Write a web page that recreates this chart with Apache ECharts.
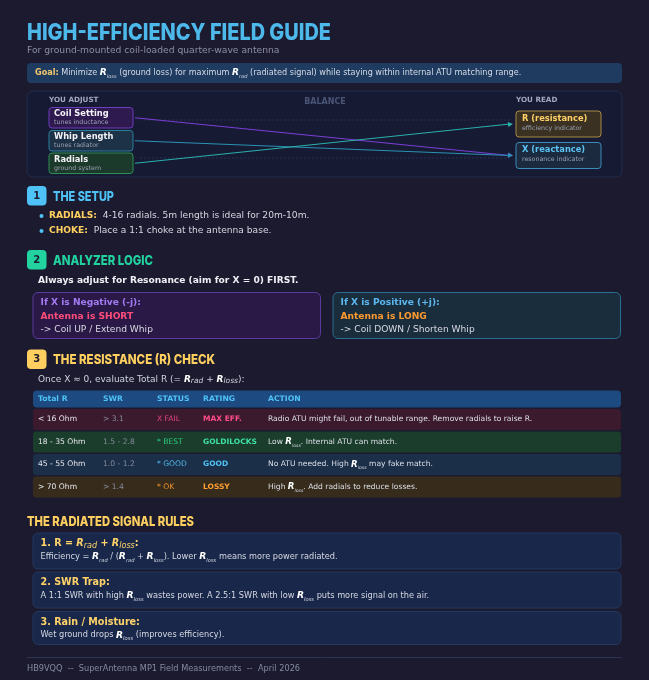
<!DOCTYPE html>
<html><head><meta charset="utf-8">
<script src="https://cdn.jsdelivr.net/npm/echarts@6/dist/echarts.min.js"></script>
<style>html,body{margin:0;padding:0;background:#1b1a2e}#c{width:649px;height:680px}</style>
</head><body><div id="c"></div><script>
// ---------- DATA ----------
const titleText = 'HIGH-EFFICIENCY FIELD GUIDE';
const subtitleText = 'For ground-mounted coil-loaded quarter-wave antenna';
const goalText = '{g|Goal:} Minimize {R|R}{s|loss} (ground loss) for maximum {R|R}{s|rad} (radiated signal) while staying within internal ATU matching range.';
const adjustNames = ['Coil Setting', 'Whip Length', 'Radials'];
const adjustSubs = ['tunes inductance', 'tunes radiator', 'ground system'];
const readNames = ['R (resistance)', 'X (reactance)'];
const readSubs = ['efficiency indicator', 'resonance indicator'];
const links = [[0, 1], [1, 1], [2, 0]];
const sectionTitles = ['THE SETUP', 'ANALYZER LOGIC', 'THE RESISTANCE (R) CHECK'];
const setupLabels = ['RADIALS:', 'CHOKE:'];
const setupTexts = ['4-16 radials. 5m length is ideal for 20m-10m.', 'Place a 1:1 choke at the antenna base.'];
const logicIntro = 'Always adjust for Resonance (aim for X = 0) FIRST.';
const logicTitles = ['If X is Negative (-j):', 'If X is Positive (+j):'];
const logicStates = ['Antenna is SHORT', 'Antenna is LONG'];
const logicActions = ['-> Coil UP / Extend Whip', '-> Coil DOWN / Shorten Whip'];
const resistanceIntro = 'Once X \u2248 0, evaluate Total R (= {Ri|R}{si|rad} + {Ri|R}{si|loss}):';
const tableHeader = ['Total R', 'SWR', 'STATUS', 'RATING', 'ACTION'];
const totalR = ['< 16 Ohm', '18 - 35 Ohm', '45 - 55 Ohm', '> 70 Ohm'];
const swrValues = ['> 3.1', '1.5 - 2.8', '1.0 - 1.2', '> 1.4'];
const statusValues = ['X FAIL', '* BEST', '* GOOD', '* OK'];
const ratingValues = ['MAX EFF.', 'GOLDILOCKS', 'GOOD', 'LOSSY'];
const actionValues = [
  'Radio ATU might fail, out of tunable range. Remove radials to raise R.',
  'Low {R|R}{s|loss}. Internal ATU can match.',
  'No ATU needed. High {R|R}{s|loss} may fake match.',
  'High {R|R}{s|loss}. Add radials to reduce losses.'
];
const rulesTitle = 'THE RADIATED SIGNAL RULES';
const ruleTitles = ['1. R = {Ri|R}{si|rad} + {Ri|R}{si|loss}:', '2. SWR Trap:', '3. Rain / Moisture:'];
const ruleTexts = [
  'Efficiency = {R|R}{s|rad} / ({R|R}{s|rad} + {R|R}{s|loss}). Lower {R|R}{s|loss} means more power radiated.',
  'A 1:1 SWR with high {R|R}{s|loss} wastes power. A 2.5:1 SWR with low {R|R}{s|loss} puts more signal on the air.',
  'Wet ground drops {R|R}{s|loss} (improves efficiency).'
];
const footerText = 'HB9VQQ  --  SuperAntenna MP1 Field Measurements  --  April 2026';

// ---------- STYLE ----------
const F = 'DejaVu Sans';
const H = 'Inter';
const BG = '#1b1a2e';
const sectionColors = ['#4fc3f7', '#22d3a0', '#ffd060'];
const adjustFill = ['#2e1a4f', '#1e3247', '#1c3a2b'];
const adjustStroke = ['#6c3dbd', '#2b7f9d', '#2e8c55'];
const readFill = ['#3a3122', '#1b2a3f'];
const readStroke = ['#a88a42', '#3a8cba'];
const readColor = ['#ffd166', '#5cc4f5'];
const linkColors = ['#7a3fd6', '#2a92b4', '#2bb0aa'];
const rowFill = ['#3b1a2e', '#1a3d2c', '#1b2f48', '#372c1c'];
const statusColor = ['#e0457c', '#2ecc80', '#4fb8ec', '#f0922c'];
const ratingColor = ['#ff4d88', '#3ee0a0', '#4fc3f7', '#ffa030'];

const ctx = document.createElement('canvas').getContext('2d');
function fit(text, weight, size, family, target) {
  ctx.font = weight + ' ' + size + 'px "' + family + '"';
  return target / ctx.measureText(text).width;
}
function richR(size, rc, sc) {
  return {
    g: { fontFamily: F, fontWeight: 'bold', fontSize: size, fill: '#f5c96a', lineHeight: 12 },
    R: { fontFamily: F, fontWeight: 'bold', fontStyle: 'italic', fontSize: size + 1, fill: rc || '#ffffff', lineHeight: 12 },
    s: { fontFamily: F, fontStyle: 'italic', fontSize: size - 3, fill: sc || '#d0d4e0', lineHeight: 6, verticalAlign: 'bottom' },
    Ri: { fontFamily: F, fontStyle: 'italic', fontWeight: 'bold', fontSize: size, fill: rc || '#ffffff', lineHeight: 12 },
    si: { fontFamily: F, fontStyle: 'italic', fontSize: size - 1.5, fill: sc || '#d0d4e0', lineHeight: 7, verticalAlign: 'bottom' }
  };
}
function T(x, y, text, o) {
  o = o || {};
  return {
    type: 'text', x: x, y: y, scaleX: o.scaleX || 1, silent: true, z: 10,
    style: {
      x: 0, y: 0, text: text, fill: o.fill || '#d8dbe6',
      fontFamily: o.family || F, fontSize: o.size || 8, fontWeight: o.weight || 'normal',
      fontStyle: o.fstyle || 'normal',
      align: o.align || 'left', textAlign: o.align || 'left',
      verticalAlign: 'middle', textVerticalAlign: 'middle',
      lineHeight: o.lh || 12, rich: o.rich
    }
  };
}
function Rc(x, y, w, h, fill, stroke, r, lw) {
  return {
    type: 'rect', silent: true, z: 1,
    shape: { x: x, y: y, width: w, height: h, r: r == null ? 4 : r },
    style: { fill: fill, stroke: stroke || null, lineWidth: lw || 1 }
  };
}
function heading(x, y, text, color, size, target) {
  return T(x, y, text, { family: H, weight: 800, size: size, fill: color, scaleX: fit(text, 800, size, H, target) });
}

const g = [];
// title
g.push(heading(27, 33, titleText, '#4db8ea', 22.5, 304));
g.push(T(27, 51, subtitleText, { size: 9.2, fill: '#8b8fa6' }));
// goal
g.push(Rc(27, 63, 595, 20, '#1f3b60', null, 4));
g.push(T(35, 73, goalText, { size: 8.1, fill: '#d5dbe8', rich: richR(8.1) }));

// balance panel
g.push(Rc(27, 91, 595, 86, '#161a33', '#252e4f', 6));
g.push(T(49, 100.5, 'YOU ADJUST', { size: 7.2, weight: 'bold', fill: '#a3a8bf' }));
g.push(T(325, 102, 'BALANCE', { size: 8, weight: 'bold', fill: '#4b5677', align: 'center' }));
g.push(T(516, 100.5, 'YOU READ', { size: 7.2, weight: 'bold', fill: '#a3a8bf' }));
// faint dashed guides
[120, 158].forEach(function (yy) {
  g.push({ type: 'line', silent: true, z: 2, shape: { x1: 140, y1: yy, x2: 510, y2: yy }, style: { stroke: '#283150', lineWidth: 1, lineDash: [2, 2] } });
});
const adjTop = [107.5, 130.5, 153];
const adjH = 20.5;
adjustNames.forEach(function (n, i) {
  g.push(Rc(49, adjTop[i], 84, adjH, adjustFill[i], adjustStroke[i], 3));
  g.push(T(54, adjTop[i] + 6.8, n, { size: 8.3, weight: 'bold', fill: '#f2f2f7' }));
  g.push(T(54, adjTop[i] + 15.3, adjustSubs[i], { size: 6.3, fill: '#9aa0b2' }));
});
const readTop = [111, 142.5];
const readH = 26;
readNames.forEach(function (n, i) {
  g.push(Rc(516, readTop[i], 85, readH, readFill[i], readStroke[i], 3));
  g.push(T(522, readTop[i] + 7.5, n, { size: 8.3, weight: 'bold', fill: readColor[i] }));
  g.push(T(522, readTop[i] + 17.3, readSubs[i], { size: 6.3, fill: '#9aa0b2' }));
});
links.forEach(function (lk, i) {
  const x1 = 135, y1 = adjTop[lk[0]] + adjH / 2;
  const x2 = 513, y2 = readTop[lk[1]] + readH / 2;
  const col = linkColors[i];
  g.push({ type: 'line', silent: true, z: 3, shape: { x1: x1, y1: y1, x2: x2 - 3, y2: y2 }, style: { stroke: col, lineWidth: 1.1 } });
  const ang = Math.atan2(y2 - y1, x2 - x1);
  const L = 5, W = 2.5;
  const bx = x2 - L * Math.cos(ang), by = y2 - L * Math.sin(ang);
  g.push({ type: 'polygon', silent: true, z: 3, shape: { points: [[x2, y2], [bx - W * Math.sin(ang), by + W * Math.cos(ang)], [bx + W * Math.sin(ang), by - W * Math.cos(ang)]] }, style: { fill: col } });
});

// section badges
const badgeTop = [186, 250, 349.5];
const headTargets = [61, 100, 162];
sectionTitles.forEach(function (t, i) {
  g.push(Rc(27, badgeTop[i], 19.5, 19.5, sectionColors[i], null, 4));
  g.push(T(36.7, badgeTop[i] + 10, String(i + 1), { size: 10, weight: 'bold', fill: '#1b1a2e', align: 'center' }));
  g.push(heading(53, badgeTop[i] + 10.8, t, sectionColors[i], 13.5, headTargets[i]));
});

// setup bullets
const bulletY = [216, 231];
setupLabels.forEach(function (l, i) {
  g.push({ type: 'circle', silent: true, z: 5, shape: { cx: 41.5, cy: bulletY[i], r: 2 }, style: { fill: '#4fc3f7' } });
  g.push(T(49, bulletY[i], '{b|' + l + '}  ' + setupTexts[i], { size: 9.1, fill: '#d5d8e2', rich: { b: { fontFamily: F, fontWeight: 'bold', fontSize: 9.1, fill: '#ffd060' } } }));
});

// analyzer logic
g.push(T(38, 280.5, logicIntro, { size: 9.1, weight: 'bold', fill: '#eef0f6' }));
const logicX = [33, 333];
const logicFill = ['#2a1946', '#1a2d3d'];
const logicStroke = ['#5a3a9c', '#2a6f8f'];
const logicTitleColor = ['#a27af2', '#5cb8f0'];
const logicStateColor = ['#ff4d7a', '#ff9a2e'];
logicTitles.forEach(function (t, i) {
  g.push(Rc(logicX[i], 292.5, 287.5, 46, logicFill[i], logicStroke[i], 5));
  g.push(T(logicX[i] + 7.5, 303, t, { size: 9.1, weight: 'bold', fill: logicTitleColor[i] }));
  g.push(T(logicX[i] + 7.5, 316.3, logicStates[i], { size: 9.1, weight: 'bold', fill: logicStateColor[i] }));
  g.push(T(logicX[i] + 7.5, 329.3, logicActions[i], { size: 9.1, fill: '#d8d9e3' }));
});

// resistance check
g.push(T(38, 379.5, resistanceIntro, { size: 9, fill: '#cfd3df', rich: richR(9) }));
const colX = [38, 103, 157, 203, 268];
g.push(Rc(33, 390.5, 588, 17, '#1d4a80', null, 4));
tableHeader.forEach(function (h, j) {
  g.push(T(colX[j], 399, h, { size: 7.7, weight: 'bold', fill: '#4fc3f7' }));
});
const rowTop = [409, 431.5, 454, 476.5];
totalR.forEach(function (v, i) {
  const yc = rowTop[i] + 10.3;
  g.push(Rc(33, rowTop[i], 588, 21, rowFill[i], null, 3));
  g.push(T(colX[0], yc, v, { size: 7.6, fill: '#e6e7ee' }));
  g.push(T(colX[1], yc, swrValues[i], { size: 7.6, fill: '#868b9c' }));
  g.push(T(colX[2], yc, statusValues[i], { size: 7.6, fill: statusColor[i] }));
  g.push(T(colX[3], yc, ratingValues[i], { size: 7.5, weight: 'bold', fill: ratingColor[i] }));
  g.push(T(colX[4], yc, actionValues[i], { size: 7.6, fill: '#dcdfe8', rich: richR(7.6) }));
});

// rules
g.push(heading(27, 521.5, rulesTitle, '#ffd060', 13.5, 167));
const ruleTop = [533, 572, 611.5];
const ruleH = [36, 36, 33];
ruleTitles.forEach(function (t, i) {
  g.push(Rc(33, ruleTop[i], 588, ruleH[i], '#19284a', '#24375e', 5));
  g.push(T(40.5, ruleTop[i] + 10.5, t, { size: 9.6, weight: 'bold', fill: '#ffd36a', rich: richR(9.6, '#ffd36a', '#ffd36a') }));
  g.push(T(40.5, ruleTop[i] + 23.8, ruleTexts[i], { size: 8.2, fill: '#d5d8e2', rich: richR(8.2) }));
});

// footer
g.push({ type: 'line', silent: true, shape: { x1: 27, y1: 657.5, x2: 622, y2: 657.5 }, style: { stroke: '#2c3350', lineWidth: 1 } });
g.push(T(27, 668.5, footerText, { size: 8.2, fill: '#858aa2' }));

const chart = echarts.init(document.getElementById('c'), null, { renderer: 'canvas' });
chart.setOption({ backgroundColor: BG, animation: false, graphic: { elements: g } });
</script></body></html>
